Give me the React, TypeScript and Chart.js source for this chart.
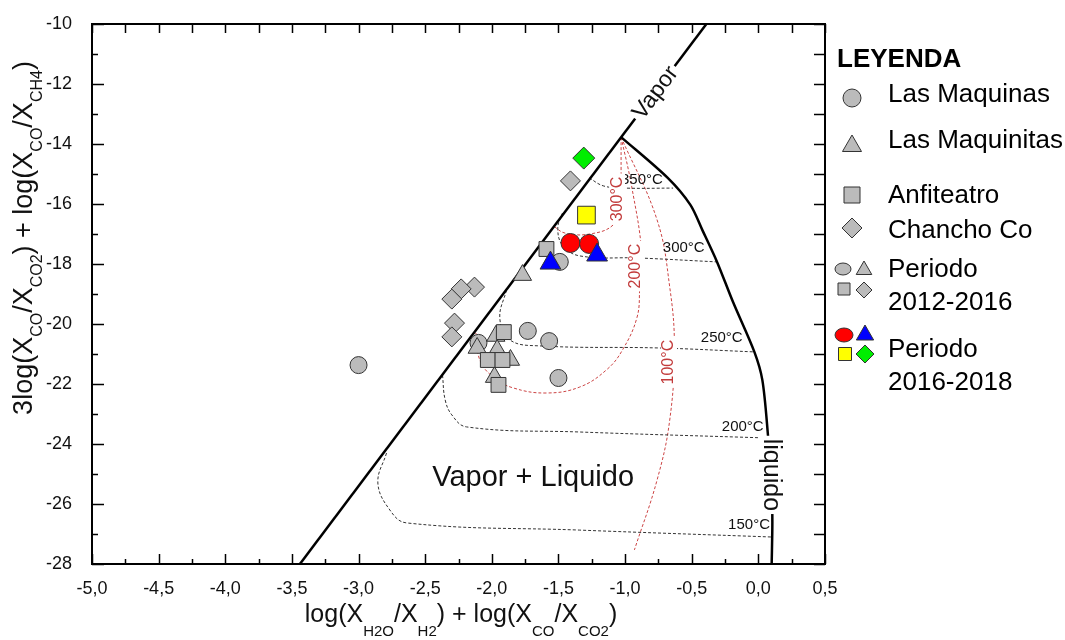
import React, { useEffect, useRef } from 'react';
import { Chart, registerables } from 'chart.js';
Chart.register(...registerables);

const FONT = '"Liberation Sans", Arial, Helvetica, sans-serif';

type P = { x: number; y: number };

// ---- axis ticks ----
const xTickValues = [-5, -4.5, -4, -3.5, -3, -2.5, -2, -1.5, -1, -0.5, 0, 0.5];
const yTickValues = [-28, -26, -24, -22, -20, -18, -16, -14, -12, -10];

// ---- samples, periodo 2012-2016 ----
const lasMaquinas: P[] = [
  { x: -3.0, y: -21.37 }, { x: -2.1, y: -20.63 }, { x: -1.73, y: -20.23 },
  { x: -1.57, y: -20.57 }, { x: -1.5, y: -21.8 }, { x: -1.49, y: -17.93 },
];
const lasMaquinitas: P[] = [
  { x: -1.77, y: -18.37 }, { x: -1.97, y: -20.4 }, { x: -2.11, y: -20.8 },
  { x: -1.96, y: -20.87 }, { x: -1.86, y: -21.2 }, { x: -1.98, y: -21.77 },
];
const anfiteatro: P[] = [
  { x: -1.59, y: -17.5 }, { x: -1.91, y: -20.27 }, { x: -2.03, y: -21.2 },
  { x: -1.92, y: -21.2 }, { x: -1.95, y: -22.03 },
];
const chanchoCo: P[] = [
  { x: -1.41, y: -15.23 }, { x: -2.13, y: -18.77 }, { x: -2.23, y: -18.83 },
  { x: -2.3, y: -19.17 }, { x: -2.28, y: -19.97 }, { x: -2.3, y: -20.43 },
];
// ---- samples, periodo 2016-2018 ----
const maquinas1618: P[] = [{ x: -1.41, y: -17.3 }, { x: -1.27, y: -17.33 }];
const maquinitas1618: P[] = [{ x: -1.21, y: -17.7 }, { x: -1.56, y: -17.97 }];
const anfiteatro1618: P[] = [{ x: -1.29, y: -16.37 }];
const chancho1618: P[] = [{ x: -1.31, y: -14.47 }];

// ---- phase boundaries ----
const vaporLine: P[] = [{ x: -3.44, y: -28 }, { x: -0.39, y: -10 }];
const liquidCurve: P[] = [
  { x: -1.03, y: -13.77 }, { x: -0.68, y: -15.13 }, { x: -0.51, y: -16.03 },
  { x: -0.42, y: -16.87 }, { x: -0.31, y: -17.93 }, { x: -0.19, y: -19.27 },
  { x: -0.03, y: -20.93 }, { x: 0.03, y: -21.87 }, { x: 0.07, y: -23.6 },
  { x: 0.1, y: -25.5 }, { x: 0.105, y: -26.6 }, { x: 0.1, y: -28 },
];
// ---- isotherms (black dashed) ----
const iso350: P[] = [
  { x: -1.27, y: -15.13 }, { x: -1.16, y: -15.4 }, { x: -1.0, y: -15.47 }, { x: -0.64, y: -15.47 },
];
const iso300: P[] = [
  { x: -1.47, y: -16.3 }, { x: -1.505, y: -16.8 }, { x: -1.47, y: -17.37 },
  { x: -1.34, y: -17.73 }, { x: -0.89, y: -17.8 }, { x: -0.31, y: -17.93 },
];
const iso250: P[] = [
  { x: -1.89, y: -18.87 }, { x: -1.94, y: -19.8 }, { x: -1.865, y: -20.53 },
  { x: -1.64, y: -20.73 }, { x: -0.74, y: -20.8 }, { x: -0.03, y: -20.93 },
];
const iso200: P[] = [
  { x: -2.37, y: -21.7 }, { x: -2.35, y: -22.53 }, { x: -2.3, y: -23.03 },
  { x: -2.19, y: -23.43 }, { x: -1.34, y: -23.6 }, { x: 0.07, y: -23.8 },
];
const iso150: P[] = [
  { x: -2.79, y: -24.3 }, { x: -2.855, y: -25.3 }, { x: -2.765, y: -26.2 },
  { x: -2.64, y: -26.63 }, { x: -1.34, y: -26.87 }, { x: 0.1, y: -27.1 },
];
// ---- red dashed curves ----
const red300: P[] = [
  { x: -1.03, y: -13.77 }, { x: -1.03, y: -14.87 }, { x: -1.03, y: -16.03 },
  { x: -1.09, y: -16.7 }, { x: -1.265, y: -17.0 }, { x: -1.45, y: -16.97 }, { x: -1.54, y: -16.73 },
];
const red200: P[] = [
  { x: -1.03, y: -13.77 }, { x: -0.95, y: -15.43 }, { x: -0.875, y: -17.63 },
  { x: -0.89, y: -18.77 }, { x: -0.91, y: -19.77 }, { x: -1.02, y: -20.87 },
  { x: -1.14, y: -21.53 }, { x: -1.34, y: -22.1 }, { x: -1.59, y: -22.3 },
  { x: -1.84, y: -22.13 }, { x: -1.99, y: -21.77 }, { x: -2.09, y: -21.2 }, { x: -2.12, y: -20.3 },
];
const red100: P[] = [
  { x: -1.03, y: -13.77 }, { x: -0.76, y: -16.53 }, { x: -0.665, y: -18.77 },
  { x: -0.63, y: -20.77 }, { x: -0.665, y: -23.2 }, { x: -0.76, y: -25.2 }, { x: -0.93, y: -27.53 },
];

// ---- annotation texts (anchored in data coordinates) ----
const isoLabels = [
  { text: '350°C', x: -0.874, y: -15.2 },
  { text: '300°C', x: -0.56, y: -17.47 },
  { text: '250°C', x: -0.275, y: -20.47 },
  { text: '200°C', x: -0.117, y: -23.43 },
  { text: '150°C', x: -0.07, y: -26.7 },
];
const redLabels = [
  { text: '300°C', x: -1.06, y: -15.83 },
  { text: '200°C', x: -0.92, y: -18.07 },
  { text: '100°C', x: -0.67, y: -21.27 },
];
const regionLabel = { text: 'Vapor + Liquido', x: -1.69, y: -25.13 };
const vaporLabel = { text: 'Vapor', x: -0.77, y: -12.3 };
const liquidLabel = { text: 'liquido', x: 0.093, y: -25.03 };

const legendItems = ['Las Maquinas', 'Las Maquinitas', 'Anfiteatro', 'Chancho Co'];

const GRAY = '#bbbbbb';
const EDGE = '#333333';

function fmtX(v: number) {
  return v.toFixed(1).replace('.', ',');
}

function shapePath(ctx: CanvasRenderingContext2D, kind: string, x: number, y: number, r: number, ry?: number) {
  ctx.beginPath();
  if (kind === 'circle') {
    ctx.ellipse(x, y, r, ry ?? r, 0, 0, Math.PI * 2);
  } else if (kind === 'triangle') {
    for (let i = 0; i < 3; i++) {
      const a = (i * 2 * Math.PI) / 3;
      const px = x + Math.sin(a) * r;
      const py = y - Math.cos(a) * r;
      if (i === 0) ctx.moveTo(px, py); else ctx.lineTo(px, py);
    }
    ctx.closePath();
  } else if (kind === 'rect') {
    ctx.rect(x - r, y - r, 2 * r, 2 * r);
  } else if (kind === 'diamond') {
    ctx.moveTo(x, y - r); ctx.lineTo(x + r, y); ctx.lineTo(x, y + r); ctx.lineTo(x - r, y); ctx.closePath();
  }
}
function drawShape(ctx: CanvasRenderingContext2D, kind: string, x: number, y: number, r: number, fill: string, ry?: number) {
  shapePath(ctx, kind, x, y, r, ry);
  ctx.fillStyle = fill;
  ctx.fill();
  ctx.lineWidth = 1;
  ctx.strokeStyle = EDGE;
  ctx.stroke();
}

function drawRich(ctx: CanvasRenderingContext2D, parts: [string, boolean][], cx: number, base: number, main: number, sub: number, subDrop: number) {
  let w = 0;
  for (const [t, s] of parts) {
    ctx.font = `${s ? sub : main}px ${FONT}`;
    w += ctx.measureText(t).width;
  }
  let x = cx - w / 2;
  ctx.textAlign = 'left';
  ctx.textBaseline = 'alphabetic';
  for (const [t, s] of parts) {
    ctx.font = `${s ? sub : main}px ${FONT}`;
    ctx.fillText(t, x, s ? base + subDrop : base);
    x += ctx.measureText(t).width;
  }
}

function textWithBg(ctx: CanvasRenderingContext2D, text: string, x: number, y: number, angle: number, font: string, color: string, bg: boolean) {
  ctx.save();
  ctx.translate(x, y);
  ctx.rotate(angle);
  ctx.font = font;
  ctx.textAlign = 'center';
  ctx.textBaseline = 'middle';
  if (bg) {
    const w = ctx.measureText(text).width;
    const m = /(\d+)px/.exec(font);
    const h = m ? parseFloat(m[1]) : 16;
    ctx.fillStyle = '#ffffff';
    ctx.fillRect(-w / 2 - 3, -h / 2, w + 6, h);
  }
  ctx.fillStyle = color;
  ctx.fillText(text, 0, 0);
  ctx.restore();
}

const decorPlugin = {
  id: 'decor',
  afterDatasetsDraw(chart: any) {
    const { ctx, scales } = chart;
    const xs = scales.x;
    const ys = scales.y;
    const X = (v: number) => xs.getPixelForValue(v);
    const Y = (v: number) => ys.getPixelForValue(v);
    ctx.save();
    for (const l of isoLabels) textWithBg(ctx, l.text, X(l.x), Y(l.y), 0, `15px ${FONT}`, '#111', false);
    for (const l of redLabels) textWithBg(ctx, l.text, X(l.x), Y(l.y), -Math.PI / 2, `16px ${FONT}`, '#c23b3b', true);
    textWithBg(ctx, regionLabel.text, X(regionLabel.x), Y(regionLabel.y), 0, `29px ${FONT}`, '#111', false);
    const ang = Math.atan2(Y(vaporLine[1].y) - Y(vaporLine[0].y), X(vaporLine[1].x) - X(vaporLine[0].x));
    textWithBg(ctx, vaporLabel.text, X(vaporLabel.x), Y(vaporLabel.y), ang, `23px ${FONT}`, '#111', true);
    textWithBg(ctx, liquidLabel.text, X(liquidLabel.x), Y(liquidLabel.y), Math.PI / 2, `25px ${FONT}`, '#111', true);
    ctx.restore();
  },
  afterDraw(chart: any) {
    const { ctx, chartArea: a, scales } = chart;
    const xs = scales.x;
    const ys = scales.y;
    const X = (v: number) => xs.getPixelForValue(v);
    const Y = (v: number) => ys.getPixelForValue(v);
    ctx.save();
    ctx.strokeStyle = '#000';
    ctx.lineWidth = 2;
    ctx.strokeRect(a.left, a.top, a.right - a.left, a.bottom - a.top);
    ctx.lineWidth = 1.5;
    ctx.beginPath();
    for (let i = 0; i < xTickValues.length; i++) {
      const v = xTickValues[i];
      const px = Math.round(X(v)) + 0.5;
      ctx.moveTo(px, a.bottom); ctx.lineTo(px, a.bottom - 10);
      ctx.moveTo(px, a.top); ctx.lineTo(px, a.top + 9);
      if (i < xTickValues.length - 1) {
        const m = Math.round(X(v + 0.25)) + 0.5;
        ctx.moveTo(m, a.bottom); ctx.lineTo(m, a.bottom - 5);
        ctx.moveTo(m, a.top); ctx.lineTo(m, a.top + 9);
      }
    }
    for (let i = 0; i < yTickValues.length; i++) {
      const v = yTickValues[i];
      const py = Math.round(Y(v)) + 0.5;
      ctx.moveTo(a.left, py); ctx.lineTo(a.left + 12, py);
      ctx.moveTo(a.right, py); ctx.lineTo(a.right - 11, py);
      if (i < yTickValues.length - 1) {
        const m = Math.round(Y(v + 1)) + 0.5;
        ctx.moveTo(a.left, m); ctx.lineTo(a.left + 6, m);
        ctx.moveTo(a.right, m); ctx.lineTo(a.right - 11, m);
      }
    }
    ctx.stroke();

    // axis titles
    ctx.fillStyle = '#111';
    drawRich(ctx, [['log(X', false], ['H2O', true], ['/X', false], ['H2', true], [') + log(X', false], ['CO', true], ['/X', false], ['CO2', true], [')', false]], 461, 622, 25, 15, 14);
    ctx.save();
    ctx.translate(32, 238);
    ctx.rotate(-Math.PI / 2);
    drawRich(ctx, [['3log(X', false], ['CO', true], ['/X', false], ['CO2', true], [') + log(X', false], ['CO', true], ['/X', false], ['CH4', true], [')', false]], 0, 0, 27, 16, 10);
    ctx.restore();

    // legend
    ctx.textAlign = 'left';
    ctx.textBaseline = 'alphabetic';
    ctx.fillStyle = '#000';
    ctx.font = `bold 26px ${FONT}`;
    ctx.fillText('LEYENDA', 837, 67);
    ctx.font = `26px ${FONT}`;
    const kinds = ['circle', 'triangle', 'rect', 'diamond'];
    const iconY = [98, 146, 195, 228];
    const baseY = [101.7, 148.3, 203.3, 238.3];
    const sizes = [9, 11, 8, 10];
    for (let i = 0; i < legendItems.length; i++) {
      drawShape(ctx, kinds[i], 852, iconY[i], sizes[i], GRAY);
      ctx.fillStyle = '#000';
      ctx.fillText(legendItems[i], 888, baseY[i]);
    }
    drawShape(ctx, 'circle', 843, 269, 8, GRAY, 6);
    drawShape(ctx, 'triangle', 864, 270, 9, GRAY);
    drawShape(ctx, 'rect', 844, 289, 6, GRAY);
    drawShape(ctx, 'diamond', 864, 290, 8, GRAY);
    drawShape(ctx, 'circle', 844, 335, 9, '#ff0000', 7);
    drawShape(ctx, 'triangle', 865, 335, 10, '#0000ff');
    drawShape(ctx, 'rect', 845, 354, 6.5, '#ffff00');
    drawShape(ctx, 'diamond', 865, 354, 9, '#00ee00');
    ctx.fillStyle = '#000';
    ctx.font = `26px ${FONT}`;
    ctx.fillText('Periodo', 888, 276.7);
    ctx.fillText('2012-2016', 888, 310);
    ctx.fillText('Periodo', 888, 356.7);
    ctx.fillText('2016-2018', 888, 390);
    ctx.restore();
  },
};

function markerSet(label: string, data: P[], style: string, r: number, fill: string) {
  return {
    type: 'scatter' as const,
    label,
    data,
    pointStyle: style,
    pointRadius: r,
    pointHoverRadius: r,
    pointBackgroundColor: fill,
    pointBorderColor: EDGE,
    pointBorderWidth: 1,
    showLine: false,
    order: 0,
  };
}
function lineSet(label: string, data: P[], color: string, width: number, dash: number[], tension: number) {
  return {
    type: 'scatter' as const,
    label,
    data,
    showLine: true,
    borderColor: color,
    borderWidth: width,
    borderDash: dash,
    tension,
    pointRadius: 0,
    pointHoverRadius: 0,
    fill: false,
    order: 1,
  };
}

export default function App() {
  const ref = useRef<HTMLCanvasElement | null>(null);
  useEffect(() => {
    document.body.style.margin = '0';
    const canvas = ref.current!;
    const chart = new Chart(canvas, {
      type: 'scatter',
      data: {
        datasets: [
          markerSet('2016-2018 Chancho Co', chancho1618, 'rectRot', 11, '#00ee00'),
          markerSet('2016-2018 Anfiteatro', anfiteatro1618, 'rect', 12.5, '#ffff00'),
          markerSet('2016-2018 Las Maquinitas', maquinitas1618, 'triangle', 12, '#0000ff'),
          markerSet('2016-2018 Las Maquinas', maquinas1618, 'circle', 9.5, '#ff0000'),
          markerSet('Chancho Co', chanchoCo, 'rectRot', 10, GRAY),
          markerSet('Anfiteatro', anfiteatro, 'rect', 10.5, GRAY),
          markerSet('Las Maquinitas', lasMaquinitas, 'triangle', 10.5, GRAY),
          markerSet('Las Maquinas', lasMaquinas, 'circle', 8.5, GRAY),
          lineSet('Vapor', vaporLine, '#000', 2.5, [], 0),
          lineSet('Liquido', liquidCurve, '#000', 2.5, [], 0.3),
          lineSet('350', iso350, '#333', 1, [3, 2], 0.4),
          lineSet('300', iso300, '#333', 1, [3, 2], 0.4),
          lineSet('250', iso250, '#333', 1, [3, 2], 0.4),
          lineSet('200', iso200, '#333', 1, [3, 2], 0.4),
          lineSet('150', iso150, '#333', 1, [3, 2], 0.4),
          lineSet('r300', red300, '#cc4444', 1, [3, 2], 0.4),
          lineSet('r200', red200, '#cc4444', 1, [3, 2], 0.4),
          lineSet('r100', red100, '#cc4444', 1, [3, 2], 0.4),
        ] as any,
      },
      options: {
        responsive: false,
        animation: false,
        devicePixelRatio: 1,
        layout: { padding: { left: 0, right: 240, top: 24, bottom: 0 } },
        plugins: { legend: { display: false }, tooltip: { enabled: false } },
        scales: {
          x: {
            type: 'linear',
            min: -5,
            max: 0.5,
            afterFit: (s: any) => { s.height = 76; },
            afterBuildTicks: (s: any) => { s.ticks = xTickValues.map((v) => ({ value: v })); },
            grid: { display: false },
            border: { display: false },
            ticks: { callback: (v: any) => fmtX(Number(v)), font: { family: FONT, size: 18 }, color: '#111', padding: 6, maxRotation: 0, autoSkip: false },
          },
          y: {
            type: 'linear',
            min: -28,
            max: -10,
            afterFit: (s: any) => { s.width = 92; },
            afterBuildTicks: (s: any) => { s.ticks = yTickValues.map((v) => ({ value: v })); },
            grid: { display: false },
            border: { display: false },
            ticks: { callback: (v: any) => String(v), font: { family: FONT, size: 18 }, color: '#111', padding: 12, autoSkip: false },
          },
        },
      } as any,
      plugins: [decorPlugin],
    });
    return () => chart.destroy();
  }, []);
  return (
    <div style={{ width: 1065, height: 640 }}>
      <canvas ref={ref} width={1065} height={640} style={{ display: 'block' }} />
    </div>
  );
}
